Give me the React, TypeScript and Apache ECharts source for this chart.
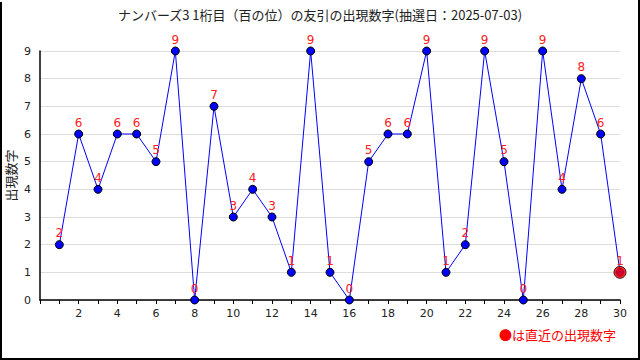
import React, { useEffect, useRef } from "react";
import * as echarts from "echarts";

const titleText = "ナンバーズ3 1桁目（百の位）の友引の出現数字(抽選日：2025-07-03)";
const yAxisName = "出現数字";
const noteText = "●は直近の出現数字";
const drawIndex = [1, 2, 3, 4, 5, 6, 7, 8, 9, 10, 11, 12, 13, 14, 15, 16, 17, 18, 19, 20, 21, 22, 23, 24, 25, 26, 27, 28, 29, 30];
const digits = [2, 6, 4, 6, 6, 5, 9, 0, 7, 3, 4, 3, 1, 9, 1, 0, 5, 6, 6, 9, 1, 2, 9, 5, 0, 9, 4, 8, 6, 1];

export default function App() {
  const ref = useRef<HTMLDivElement>(null);
  useEffect(() => {
    if (!ref.current) return;
    const chart = echarts.init(ref.current, null, { renderer: "svg" });
    const font = "'Noto Sans CJK JP', 'DejaVu Sans', sans-serif";
    const pts = drawIndex.map((x, i) => [x, digits[i]]);
    const last = pts[pts.length - 1];
    chart.setOption({
      animation: false,
      backgroundColor: "#ffffff",
      title: {
        text: titleText,
        left: "center",
        top: 3,
        textStyle: { fontSize: 13, fontWeight: "normal", color: "#222", fontFamily: font },
      },
      grid: { left: 40, right: 20, top: 51, bottom: 60, containLabel: false, outerBoundsMode: "none" },
      xAxis: {
        type: "value",
        min: 0,
        max: 30,
        interval: 1,
        axisLine: { lineStyle: { color: "#000", width: 1.5 } },
        axisTick: { show: true, length: 4, lineStyle: { color: "#000" } },
        axisLabel: {
          color: "#222",
          fontSize: 11,
          fontFamily: "'DejaVu Sans', sans-serif",
          margin: 8,
          formatter: (v: number) => (v > 0 && v % 2 === 0 ? String(v) : ""),
        },
        splitLine: { show: false },
      },
      yAxis: {
        type: "value",
        min: 0,
        max: 9,
        interval: 1,
        name: yAxisName,
        nameLocation: "middle",
        nameGap: 23,
        nameRotate: 90,
        nameMoveOverlap: false,
        nameTextStyle: { fontSize: 13, color: "#222", fontFamily: font },
        axisLine: { show: true, lineStyle: { color: "#000", width: 1.5 } },
        axisTick: { show: false },
        axisLabel: { color: "#222", fontSize: 11, fontFamily: "'DejaVu Sans', sans-serif", margin: 9 },
        splitLine: { show: true, lineStyle: { color: "#dddddd", width: 1 } },
      },
      series: [
        {
          type: "line",
          data: pts,
          symbol: "circle",
          symbolSize: 8,
          itemStyle: { color: "#0000ff", borderColor: "#000", borderWidth: 1 },
          lineStyle: { color: "#0000ff", width: 1 },
          label: {
            show: true,
            position: "top",
            distance: 1,
            color: "#ff2020",
            fontSize: 12,
            fontFamily: "'DejaVu Sans', sans-serif",
          },
          z: 3,
        },
        {
          type: "scatter",
          data: [last],
          symbol: "circle",
          symbolSize: 12,
          itemStyle: { color: "#ff0000", borderColor: "#000", borderWidth: 1 },
          z: 4,
        },
      ],
      graphic: [
        { type: "line", shape: { x1: 1, y1: 2, x2: 1, y2: 359 }, style: { stroke: "#000", lineWidth: 2 } },
        { type: "line", shape: { x1: 639, y1: 0, x2: 639, y2: 359 }, style: { stroke: "#000", lineWidth: 2 } },
        { type: "line", shape: { x1: 0, y1: 359, x2: 640, y2: 359 }, style: { stroke: "#000", lineWidth: 2 } },
        {
          type: "text",
          right: 24,
          top: 328,
          style: { text: noteText, fill: "#ff0000", fontSize: 13, fontFamily: font },
        },
      ],
    });
    return () => chart.dispose();
  }, []);
  return <div ref={ref} style={{ position: "fixed", left: 0, top: 0, width: 640, height: 360 }} />;
}
